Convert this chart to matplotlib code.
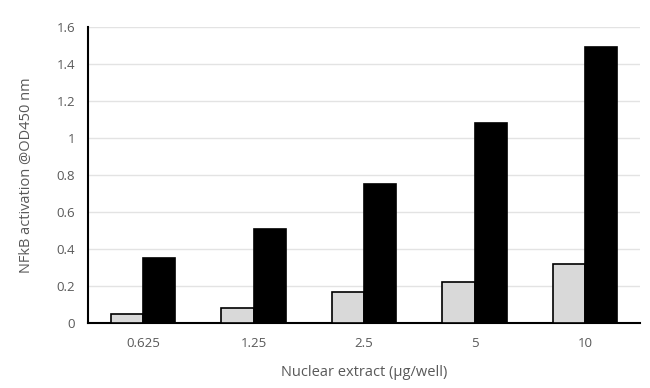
import numpy as np
import matplotlib.pyplot as plt
from matplotlib.ticker import FuncFormatter

# data
doses = ["0.625", "1.25", "2.5", "5", "10"]
control = [0.05, 0.08, 0.17, 0.22, 0.32]
stimulated = [0.35, 0.51, 0.75, 1.08, 1.49]

plt.rcParams['font.family'] = ['Open Sans', 'DejaVu Sans']
txt = "#595959"

fig = plt.figure(figsize=(6.5, 3.88), dpi=100)
ax = fig.add_axes([0.135, 0.1675, 0.850, 0.7625])

x = np.arange(len(doses))
w = 0.29
ax.bar(x - w/2, control, w, color="#d9d9d9", edgecolor="black", linewidth=1.2, zorder=3)
ax.bar(x + w/2, stimulated, w, color="black", edgecolor="black", linewidth=1.2, zorder=3)

ax.set_xlim(-0.5, 4.5)
ax.set_ylim(0, 1.6)
ax.set_yticks(np.arange(0, 1.61, 0.2))
ax.yaxis.set_major_formatter(FuncFormatter(lambda v, p: f"{v:g}"))
ax.set_xticks(x)
ax.set_xticklabels(doses)
ax.grid(axis="y", color="#e3e3e3", linewidth=1, zorder=0)
ax.tick_params(length=0, labelsize=9.5, labelcolor=txt, pad=9)
ax.tick_params(axis="x", pad=10)

for s in ["top", "right"]:
    ax.spines[s].set_visible(False)
ax.spines["left"].set_linewidth(1.5)
ax.spines["bottom"].set_linewidth(1.5)

ax.set_xlabel("Nuclear extract (µg/well)", fontsize=10.5, color=txt, labelpad=11)
ax.set_ylabel("NFkB activation @OD450 nm", fontsize=10.5, color=txt, labelpad=16)

fig.savefig("out.png")
